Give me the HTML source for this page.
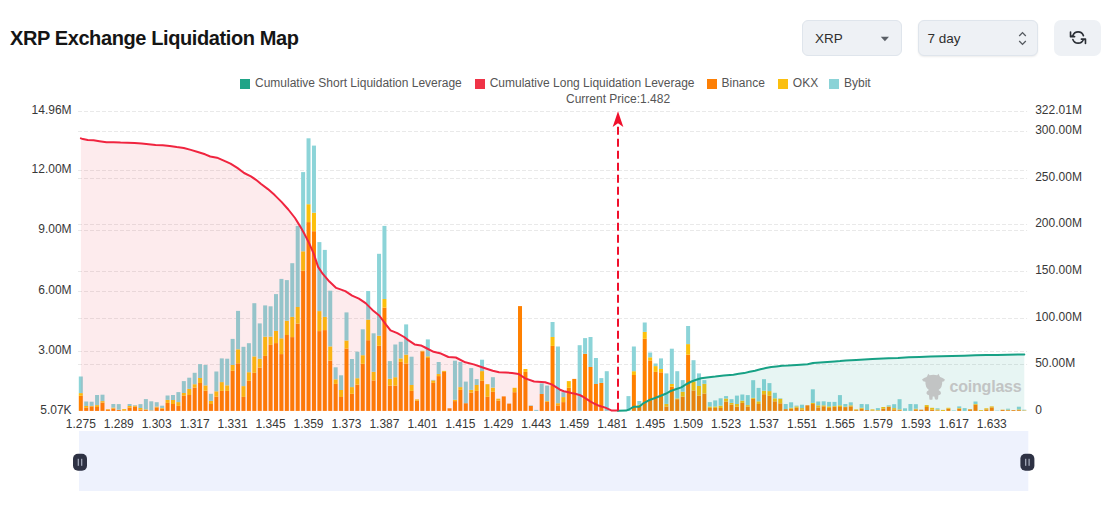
<!DOCTYPE html>
<html><head><meta charset="utf-8"><style>
html,body{margin:0;padding:0;background:#fff;}
body{width:1110px;height:530px;position:relative;overflow:hidden;font-family:"Liberation Sans",sans-serif;}
.title{position:absolute;left:10px;top:26px;font-size:20px;font-weight:bold;color:#151515;letter-spacing:-0.4px;line-height:24px;white-space:nowrap;}
.sel{position:absolute;top:20px;height:35.5px;box-sizing:border-box;background:#eef1f5;border:1px solid #dfe5ec;border-radius:6px;}
.sel span{position:absolute;top:9.5px;font-size:13.5px;color:#2e2e2e;line-height:16px;}
.btn{position:absolute;left:1054px;top:20px;width:47px;height:36px;background:#eef1f5;border-radius:7px;}
.lsq{position:absolute;top:78.5px;width:10px;height:10px;}
.lt{position:absolute;top:76px;font-size:12px;color:#555;line-height:14px;white-space:nowrap;}
.cp{position:absolute;left:566px;top:92px;font-size:12px;color:#555;line-height:14px;white-space:nowrap;}
svg{position:absolute;left:0;top:0;}
.ax{font-family:"Liberation Sans",sans-serif;font-size:12px;fill:#383838;}
.wm{font-family:"Liberation Sans",sans-serif;font-size:16px;font-weight:bold;fill:#c2c4c4;letter-spacing:-0.2px;}
</style></head><body>
<div class="title">XRP Exchange Liquidation Map</div>
<div class="sel" style="left:802px;width:100px;"><span style="left:12px">XRP</span>
<svg style="left:77px;top:15px" width="10" height="6" viewBox="0 0 10 6"><path d="M0.8 0.8 L9 0.8 L4.9 5.3 Z" fill="#5a5f66"/></svg></div>
<div class="sel" style="left:918px;width:120px;box-shadow:0 1px 2px rgba(0,0,0,0.08);"><span style="left:8.5px">7 day</span>
<svg style="left:99px;top:10px" width="9" height="15" viewBox="0 0 9 15"><path d="M1.2 5 L4.5 1.6 L7.8 5 M1.2 10 L4.5 13.4 L7.8 10" fill="none" stroke="#555a60" stroke-width="1.3"/></svg></div>
<div class="btn"><svg style="left:12px;top:6px" width="24" height="24" viewBox="0 0 530 530"><g fill="none" stroke="#2b2f36" stroke-width="36" stroke-linecap="round" stroke-linejoin="round"><path d="M384.5 212.6 A124 124 0 0 0 151.5 212.6 L100 235 M100 135 L100 235 L190 235"/><path d="M151.5 297.4 A124 124 0 0 0 384.5 297.4 L430 290 M340 290 L430 290 L430 385"/></g></svg></div>
<div class="lsq" style="left:240.1px;background:#1fa487"></div><div class="lt" style="left:255.0px">Cumulative Short Liquidation Leverage</div>
<div class="lsq" style="left:474.7px;background:#ef3347"></div><div class="lt" style="left:489.7px">Cumulative Long Liquidation Leverage</div>
<div class="lsq" style="left:706.5px;background:#fd7f05"></div><div class="lt" style="left:721.5px">Binance</div>
<div class="lsq" style="left:777.8px;background:#fbbf0f"></div><div class="lt" style="left:792.8px">OKX</div>
<div class="lsq" style="left:829.0px;background:#8bd3d7"></div><div class="lt" style="left:844.0px">Bybit</div>
<div class="cp">Current Price:1.482</div>
<svg width="1110" height="530" viewBox="0 0 1110 530" style="pointer-events:none">
<line x1="78" y1="111.5" x2="1027.1" y2="111.5" stroke="#e9e9e9" stroke-width="1" stroke-dasharray="4 2"/>
<line x1="78" y1="131.5" x2="1027.1" y2="131.5" stroke="#e9e9e9" stroke-width="1" stroke-dasharray="4 2"/>
<line x1="78" y1="170.5" x2="1027.1" y2="170.5" stroke="#e9e9e9" stroke-width="1" stroke-dasharray="4 2"/>
<line x1="78" y1="178.5" x2="1027.1" y2="178.5" stroke="#e9e9e9" stroke-width="1" stroke-dasharray="4 2"/>
<line x1="78" y1="224.5" x2="1027.1" y2="224.5" stroke="#e9e9e9" stroke-width="1" stroke-dasharray="4 2"/>
<line x1="78" y1="230.5" x2="1027.1" y2="230.5" stroke="#e9e9e9" stroke-width="1" stroke-dasharray="4 2"/>
<line x1="78" y1="271.5" x2="1027.1" y2="271.5" stroke="#e9e9e9" stroke-width="1" stroke-dasharray="4 2"/>
<line x1="78" y1="291.5" x2="1027.1" y2="291.5" stroke="#e9e9e9" stroke-width="1" stroke-dasharray="4 2"/>
<line x1="78" y1="318.5" x2="1027.1" y2="318.5" stroke="#e9e9e9" stroke-width="1" stroke-dasharray="4 2"/>
<line x1="78" y1="351.5" x2="1027.1" y2="351.5" stroke="#e9e9e9" stroke-width="1" stroke-dasharray="4 2"/>
<line x1="78" y1="364.5" x2="1027.1" y2="364.5" stroke="#e9e9e9" stroke-width="1" stroke-dasharray="4 2"/>
<rect x="78.8" y="395.8" width="4.0" height="15.1" fill="#ff8000"/>
<rect x="78.8" y="393.1" width="4.0" height="2.7" fill="#fcc00c"/>
<rect x="78.8" y="376.5" width="4.0" height="16.6" fill="#8cd4d8"/>
<rect x="84.22" y="407.8" width="4.0" height="3.1" fill="#ff8000"/>
<rect x="84.22" y="406" width="4.0" height="1.8" fill="#fcc00c"/>
<rect x="84.22" y="401.5" width="4.0" height="4.5" fill="#8cd4d8"/>
<rect x="89.64" y="406.4" width="4.0" height="4.5" fill="#ff8000"/>
<rect x="89.64" y="405.9" width="4.0" height="0.5" fill="#fcc00c"/>
<rect x="89.64" y="401.7" width="4.0" height="4.2" fill="#8cd4d8"/>
<rect x="95.07" y="407" width="4.0" height="3.9" fill="#ff8000"/>
<rect x="95.07" y="405.1" width="4.0" height="1.9" fill="#fcc00c"/>
<rect x="95.07" y="395" width="4.0" height="10.1" fill="#8cd4d8"/>
<rect x="100.49" y="402.6" width="4.0" height="8.3" fill="#ff8000"/>
<rect x="100.49" y="401.1" width="4.0" height="1.5" fill="#fcc00c"/>
<rect x="100.49" y="394.7" width="4.0" height="6.4" fill="#8cd4d8"/>
<rect x="105.91" y="409.7" width="4.0" height="1.2" fill="#ff8000"/>
<rect x="105.91" y="409.1" width="4.0" height="0.6" fill="#fcc00c"/>
<rect x="111.33" y="408.5" width="4.0" height="2.4" fill="#ff8000"/>
<rect x="111.33" y="407.6" width="4.0" height="0.9" fill="#fcc00c"/>
<rect x="111.33" y="404" width="4.0" height="3.6" fill="#8cd4d8"/>
<rect x="116.76" y="409.9" width="4.0" height="1" fill="#ff8000"/>
<rect x="116.76" y="409.7" width="4.0" height="0.2" fill="#fcc00c"/>
<rect x="116.76" y="404.1" width="4.0" height="5.6" fill="#8cd4d8"/>
<rect x="122.18" y="410.6" width="4.0" height="0.3" fill="#ff8000"/>
<rect x="122.18" y="409.1" width="4.0" height="1.5" fill="#fcc00c"/>
<rect x="127.6" y="407.6" width="4.0" height="3.3" fill="#ff8000"/>
<rect x="127.6" y="406" width="4.0" height="1.6" fill="#fcc00c"/>
<rect x="127.6" y="404" width="4.0" height="2" fill="#8cd4d8"/>
<rect x="133.02" y="406.6" width="4.0" height="4.3" fill="#ff8000"/>
<rect x="133.02" y="405.7" width="4.0" height="0.9" fill="#fcc00c"/>
<rect x="133.02" y="405.1" width="4.0" height="0.6" fill="#8cd4d8"/>
<rect x="138.45" y="409.7" width="4.0" height="1.2" fill="#ff8000"/>
<rect x="138.45" y="408" width="4.0" height="1.7" fill="#fcc00c"/>
<rect x="138.45" y="404.1" width="4.0" height="3.9" fill="#8cd4d8"/>
<rect x="143.87" y="409.9" width="4.0" height="1" fill="#ff8000"/>
<rect x="143.87" y="409.3" width="4.0" height="0.6" fill="#fcc00c"/>
<rect x="143.87" y="399.1" width="4.0" height="10.2" fill="#8cd4d8"/>
<rect x="149.29" y="410.6" width="4.0" height="0.3" fill="#ff8000"/>
<rect x="149.29" y="410.4" width="4.0" height="0.2" fill="#fcc00c"/>
<rect x="149.29" y="401.3" width="4.0" height="9.1" fill="#8cd4d8"/>
<rect x="154.71" y="407.4" width="4.0" height="3.5" fill="#ff8000"/>
<rect x="154.71" y="406.6" width="4.0" height="0.8" fill="#fcc00c"/>
<rect x="154.71" y="402.2" width="4.0" height="4.4" fill="#8cd4d8"/>
<rect x="160.14" y="408.7" width="4.0" height="2.2" fill="#ff8000"/>
<rect x="160.14" y="408" width="4.0" height="0.7" fill="#fcc00c"/>
<rect x="160.14" y="405.7" width="4.0" height="2.3" fill="#8cd4d8"/>
<rect x="165.56" y="402.9" width="4.0" height="8" fill="#ff8000"/>
<rect x="165.56" y="399.9" width="4.0" height="3" fill="#fcc00c"/>
<rect x="165.56" y="395.5" width="4.0" height="4.4" fill="#8cd4d8"/>
<rect x="170.98" y="404" width="4.0" height="6.9" fill="#ff8000"/>
<rect x="170.98" y="400" width="4.0" height="4" fill="#fcc00c"/>
<rect x="170.98" y="395" width="4.0" height="5" fill="#8cd4d8"/>
<rect x="176.4" y="405.9" width="4.0" height="5" fill="#ff8000"/>
<rect x="176.4" y="402.1" width="4.0" height="3.8" fill="#fcc00c"/>
<rect x="176.4" y="392.1" width="4.0" height="10" fill="#8cd4d8"/>
<rect x="181.83" y="395.8" width="4.0" height="15.1" fill="#ff8000"/>
<rect x="181.83" y="393" width="4.0" height="2.8" fill="#fcc00c"/>
<rect x="181.83" y="381.1" width="4.0" height="11.9" fill="#8cd4d8"/>
<rect x="187.25" y="395" width="4.0" height="15.9" fill="#ff8000"/>
<rect x="187.25" y="388.9" width="4.0" height="6.1" fill="#fcc00c"/>
<rect x="187.25" y="377.7" width="4.0" height="11.2" fill="#8cd4d8"/>
<rect x="192.67" y="387.6" width="4.0" height="23.3" fill="#ff8000"/>
<rect x="192.67" y="384.2" width="4.0" height="3.4" fill="#fcc00c"/>
<rect x="192.67" y="372.8" width="4.0" height="11.4" fill="#8cd4d8"/>
<rect x="198.09" y="383" width="4.0" height="27.9" fill="#ff8000"/>
<rect x="198.09" y="378" width="4.0" height="5" fill="#fcc00c"/>
<rect x="198.09" y="364.1" width="4.0" height="13.9" fill="#8cd4d8"/>
<rect x="203.52" y="390.7" width="4.0" height="20.2" fill="#ff8000"/>
<rect x="203.52" y="385.4" width="4.0" height="5.3" fill="#fcc00c"/>
<rect x="203.52" y="365" width="4.0" height="20.4" fill="#8cd4d8"/>
<rect x="208.94" y="404" width="4.0" height="6.9" fill="#ff8000"/>
<rect x="208.94" y="400.9" width="4.0" height="3.1" fill="#fcc00c"/>
<rect x="208.94" y="393.8" width="4.0" height="7.1" fill="#8cd4d8"/>
<rect x="214.36" y="396.6" width="4.0" height="14.3" fill="#ff8000"/>
<rect x="214.36" y="391.3" width="4.0" height="5.3" fill="#fcc00c"/>
<rect x="214.36" y="371.5" width="4.0" height="19.8" fill="#8cd4d8"/>
<rect x="219.78" y="390.9" width="4.0" height="20" fill="#ff8000"/>
<rect x="219.78" y="382.1" width="4.0" height="8.8" fill="#fcc00c"/>
<rect x="219.78" y="358.4" width="4.0" height="23.7" fill="#8cd4d8"/>
<rect x="225.2" y="390.9" width="4.0" height="20" fill="#ff8000"/>
<rect x="225.2" y="385.3" width="4.0" height="5.6" fill="#fcc00c"/>
<rect x="225.2" y="358.7" width="4.0" height="26.6" fill="#8cd4d8"/>
<rect x="230.63" y="370.8" width="4.0" height="40.1" fill="#ff8000"/>
<rect x="230.63" y="365" width="4.0" height="5.8" fill="#fcc00c"/>
<rect x="230.63" y="338.9" width="4.0" height="26.1" fill="#8cd4d8"/>
<rect x="236.05" y="363.3" width="4.0" height="47.6" fill="#ff8000"/>
<rect x="236.05" y="349.3" width="4.0" height="14" fill="#fcc00c"/>
<rect x="236.05" y="310.9" width="4.0" height="38.4" fill="#8cd4d8"/>
<rect x="241.47" y="396.9" width="4.0" height="14" fill="#ff8000"/>
<rect x="241.47" y="386.1" width="4.0" height="10.8" fill="#fcc00c"/>
<rect x="241.47" y="346.8" width="4.0" height="39.3" fill="#8cd4d8"/>
<rect x="246.89" y="380.8" width="4.0" height="30.1" fill="#ff8000"/>
<rect x="246.89" y="372.2" width="4.0" height="8.6" fill="#fcc00c"/>
<rect x="246.89" y="343.2" width="4.0" height="29" fill="#8cd4d8"/>
<rect x="252.32" y="372.8" width="4.0" height="38.1" fill="#ff8000"/>
<rect x="252.32" y="356.4" width="4.0" height="16.4" fill="#fcc00c"/>
<rect x="252.32" y="303.2" width="4.0" height="53.2" fill="#8cd4d8"/>
<rect x="257.74" y="367.7" width="4.0" height="43.2" fill="#ff8000"/>
<rect x="257.74" y="358.7" width="4.0" height="9" fill="#fcc00c"/>
<rect x="257.74" y="323.4" width="4.0" height="35.3" fill="#8cd4d8"/>
<rect x="263.16" y="355.9" width="4.0" height="55" fill="#ff8000"/>
<rect x="263.16" y="336.7" width="4.0" height="19.2" fill="#fcc00c"/>
<rect x="263.16" y="305.4" width="4.0" height="31.3" fill="#8cd4d8"/>
<rect x="268.58" y="344.9" width="4.0" height="66" fill="#ff8000"/>
<rect x="268.58" y="336.6" width="4.0" height="8.3" fill="#fcc00c"/>
<rect x="268.58" y="306.3" width="4.0" height="30.3" fill="#8cd4d8"/>
<rect x="274.01" y="343.1" width="4.0" height="67.8" fill="#ff8000"/>
<rect x="274.01" y="330.9" width="4.0" height="12.2" fill="#fcc00c"/>
<rect x="274.01" y="294.1" width="4.0" height="36.8" fill="#8cd4d8"/>
<rect x="279.43" y="354.1" width="4.0" height="56.8" fill="#ff8000"/>
<rect x="279.43" y="338.3" width="4.0" height="15.8" fill="#fcc00c"/>
<rect x="279.43" y="278.9" width="4.0" height="59.4" fill="#8cd4d8"/>
<rect x="284.85" y="335" width="4.0" height="75.9" fill="#ff8000"/>
<rect x="284.85" y="320.7" width="4.0" height="14.3" fill="#fcc00c"/>
<rect x="284.85" y="280.1" width="4.0" height="40.6" fill="#8cd4d8"/>
<rect x="290.27" y="337.1" width="4.0" height="73.8" fill="#ff8000"/>
<rect x="290.27" y="316.9" width="4.0" height="20.2" fill="#fcc00c"/>
<rect x="290.27" y="263.2" width="4.0" height="53.7" fill="#8cd4d8"/>
<rect x="295.7" y="323.6" width="4.0" height="87.3" fill="#ff8000"/>
<rect x="295.7" y="307" width="4.0" height="16.6" fill="#fcc00c"/>
<rect x="295.7" y="225.9" width="4.0" height="81.1" fill="#8cd4d8"/>
<rect x="301.12" y="270.8" width="4.0" height="140.1" fill="#ff8000"/>
<rect x="301.12" y="251.3" width="4.0" height="19.5" fill="#fcc00c"/>
<rect x="301.12" y="172.1" width="4.0" height="79.2" fill="#8cd4d8"/>
<rect x="306.54" y="222.1" width="4.0" height="188.8" fill="#ff8000"/>
<rect x="306.54" y="204.2" width="4.0" height="17.9" fill="#fcc00c"/>
<rect x="306.54" y="138.3" width="4.0" height="65.9" fill="#8cd4d8"/>
<rect x="311.96" y="231.2" width="4.0" height="179.7" fill="#ff8000"/>
<rect x="311.96" y="212.7" width="4.0" height="18.5" fill="#fcc00c"/>
<rect x="311.96" y="145.6" width="4.0" height="67.1" fill="#8cd4d8"/>
<rect x="317.39" y="331.1" width="4.0" height="79.8" fill="#ff8000"/>
<rect x="317.39" y="311.1" width="4.0" height="20" fill="#fcc00c"/>
<rect x="317.39" y="242.1" width="4.0" height="69" fill="#8cd4d8"/>
<rect x="322.81" y="330.1" width="4.0" height="80.8" fill="#ff8000"/>
<rect x="322.81" y="316.9" width="4.0" height="13.2" fill="#fcc00c"/>
<rect x="322.81" y="249.9" width="4.0" height="67" fill="#8cd4d8"/>
<rect x="328.23" y="360.6" width="4.0" height="50.3" fill="#ff8000"/>
<rect x="328.23" y="346.4" width="4.0" height="14.2" fill="#fcc00c"/>
<rect x="328.23" y="290.7" width="4.0" height="55.7" fill="#8cd4d8"/>
<rect x="333.65" y="383.9" width="4.0" height="27" fill="#ff8000"/>
<rect x="333.65" y="379.3" width="4.0" height="4.6" fill="#fcc00c"/>
<rect x="333.65" y="367.3" width="4.0" height="12" fill="#8cd4d8"/>
<rect x="339.08" y="397" width="4.0" height="13.9" fill="#ff8000"/>
<rect x="339.08" y="390" width="4.0" height="7" fill="#fcc00c"/>
<rect x="339.08" y="375.3" width="4.0" height="14.7" fill="#8cd4d8"/>
<rect x="344.5" y="348.5" width="4.0" height="62.4" fill="#ff8000"/>
<rect x="344.5" y="340.5" width="4.0" height="8" fill="#fcc00c"/>
<rect x="344.5" y="312.4" width="4.0" height="28.1" fill="#8cd4d8"/>
<rect x="349.92" y="393.8" width="4.0" height="17.1" fill="#ff8000"/>
<rect x="349.92" y="387.1" width="4.0" height="6.7" fill="#fcc00c"/>
<rect x="349.92" y="359" width="4.0" height="28.1" fill="#8cd4d8"/>
<rect x="355.34" y="384.7" width="4.0" height="26.2" fill="#ff8000"/>
<rect x="355.34" y="378.2" width="4.0" height="6.5" fill="#fcc00c"/>
<rect x="355.34" y="351.7" width="4.0" height="26.5" fill="#8cd4d8"/>
<rect x="360.76" y="363.8" width="4.0" height="47.1" fill="#ff8000"/>
<rect x="360.76" y="355.2" width="4.0" height="8.6" fill="#fcc00c"/>
<rect x="360.76" y="329.3" width="4.0" height="25.9" fill="#8cd4d8"/>
<rect x="366.19" y="340.2" width="4.0" height="70.7" fill="#ff8000"/>
<rect x="366.19" y="319.6" width="4.0" height="20.6" fill="#fcc00c"/>
<rect x="366.19" y="291" width="4.0" height="28.6" fill="#8cd4d8"/>
<rect x="371.61" y="380.4" width="4.0" height="30.5" fill="#ff8000"/>
<rect x="371.61" y="371.8" width="4.0" height="8.6" fill="#fcc00c"/>
<rect x="371.61" y="333.3" width="4.0" height="38.5" fill="#8cd4d8"/>
<rect x="377.03" y="345.8" width="4.0" height="65.1" fill="#ff8000"/>
<rect x="377.03" y="335.7" width="4.0" height="10.1" fill="#fcc00c"/>
<rect x="377.03" y="253.8" width="4.0" height="81.9" fill="#8cd4d8"/>
<rect x="382.45" y="307.6" width="4.0" height="103.3" fill="#ff8000"/>
<rect x="382.45" y="299" width="4.0" height="8.6" fill="#fcc00c"/>
<rect x="382.45" y="225.9" width="4.0" height="73.1" fill="#8cd4d8"/>
<rect x="387.88" y="385.7" width="4.0" height="25.2" fill="#ff8000"/>
<rect x="387.88" y="378.8" width="4.0" height="6.9" fill="#fcc00c"/>
<rect x="387.88" y="361.1" width="4.0" height="17.7" fill="#8cd4d8"/>
<rect x="393.3" y="385.7" width="4.0" height="25.2" fill="#ff8000"/>
<rect x="393.3" y="377.2" width="4.0" height="8.5" fill="#fcc00c"/>
<rect x="393.3" y="344.5" width="4.0" height="32.7" fill="#8cd4d8"/>
<rect x="398.72" y="361.9" width="4.0" height="49" fill="#ff8000"/>
<rect x="398.72" y="358.4" width="4.0" height="3.5" fill="#fcc00c"/>
<rect x="398.72" y="341.8" width="4.0" height="16.6" fill="#8cd4d8"/>
<rect x="404.14" y="363.5" width="4.0" height="47.4" fill="#ff8000"/>
<rect x="404.14" y="354.6" width="4.0" height="8.9" fill="#fcc00c"/>
<rect x="404.14" y="324.4" width="4.0" height="30.2" fill="#8cd4d8"/>
<rect x="409.57" y="390.9" width="4.0" height="20" fill="#ff8000"/>
<rect x="409.57" y="385" width="4.0" height="5.9" fill="#fcc00c"/>
<rect x="409.57" y="356.7" width="4.0" height="28.3" fill="#8cd4d8"/>
<rect x="414.99" y="400.7" width="4.0" height="10.2" fill="#ff8000"/>
<rect x="414.99" y="399.4" width="4.0" height="1.3" fill="#fcc00c"/>
<rect x="420.41" y="351.4" width="4.0" height="59.5" fill="#ff8000"/>
<rect x="420.41" y="350.8" width="4.0" height="0.6" fill="#fcc00c"/>
<rect x="425.83" y="358" width="4.0" height="52.9" fill="#ff8000"/>
<rect x="425.83" y="356.3" width="4.0" height="1.7" fill="#fcc00c"/>
<rect x="425.83" y="339.4" width="4.0" height="16.9" fill="#8cd4d8"/>
<rect x="431.26" y="382.9" width="4.0" height="28" fill="#ff8000"/>
<rect x="431.26" y="380.4" width="4.0" height="2.5" fill="#fcc00c"/>
<rect x="431.26" y="379.9" width="4.0" height="0.5" fill="#8cd4d8"/>
<rect x="436.68" y="376.1" width="4.0" height="34.8" fill="#ff8000"/>
<rect x="436.68" y="374" width="4.0" height="2.1" fill="#fcc00c"/>
<rect x="436.68" y="362" width="4.0" height="12" fill="#8cd4d8"/>
<rect x="442.1" y="371.9" width="4.0" height="39" fill="#ff8000"/>
<rect x="442.1" y="370.9" width="4.0" height="1" fill="#fcc00c"/>
<rect x="447.52" y="408.3" width="4.0" height="2.6" fill="#ff8000"/>
<rect x="452.95" y="401.1" width="4.0" height="9.8" fill="#ff8000"/>
<rect x="452.95" y="399.8" width="4.0" height="1.3" fill="#fcc00c"/>
<rect x="452.95" y="360.7" width="4.0" height="39.1" fill="#8cd4d8"/>
<rect x="458.37" y="389.9" width="4.0" height="21" fill="#ff8000"/>
<rect x="458.37" y="387.1" width="4.0" height="2.8" fill="#fcc00c"/>
<rect x="458.37" y="362" width="4.0" height="25.1" fill="#8cd4d8"/>
<rect x="463.79" y="403.2" width="4.0" height="7.7" fill="#ff8000"/>
<rect x="463.79" y="381.6" width="4.0" height="21.6" fill="#8cd4d8"/>
<rect x="469.21" y="392.6" width="4.0" height="18.3" fill="#ff8000"/>
<rect x="469.21" y="389.9" width="4.0" height="2.7" fill="#fcc00c"/>
<rect x="469.21" y="368.1" width="4.0" height="21.8" fill="#8cd4d8"/>
<rect x="474.64" y="390.9" width="4.0" height="20" fill="#ff8000"/>
<rect x="474.64" y="385" width="4.0" height="5.9" fill="#fcc00c"/>
<rect x="474.64" y="379.1" width="4.0" height="5.9" fill="#8cd4d8"/>
<rect x="480.06" y="380.8" width="4.0" height="30.1" fill="#ff8000"/>
<rect x="480.06" y="371.1" width="4.0" height="9.7" fill="#fcc00c"/>
<rect x="480.06" y="359.7" width="4.0" height="11.4" fill="#8cd4d8"/>
<rect x="485.48" y="396.8" width="4.0" height="14.1" fill="#ff8000"/>
<rect x="485.48" y="384.2" width="4.0" height="12.6" fill="#fcc00c"/>
<rect x="490.9" y="391.8" width="4.0" height="19.1" fill="#ff8000"/>
<rect x="490.9" y="387.6" width="4.0" height="4.2" fill="#fcc00c"/>
<rect x="490.9" y="377.2" width="4.0" height="10.4" fill="#8cd4d8"/>
<rect x="496.32" y="400.6" width="4.0" height="10.3" fill="#ff8000"/>
<rect x="496.32" y="398.7" width="4.0" height="1.9" fill="#fcc00c"/>
<rect x="501.75" y="396.4" width="4.0" height="14.5" fill="#ff8000"/>
<rect x="507.17" y="403.6" width="4.0" height="7.3" fill="#ff8000"/>
<rect x="512.59" y="392.2" width="4.0" height="18.7" fill="#ff8000"/>
<rect x="512.59" y="387.8" width="4.0" height="4.4" fill="#fcc00c"/>
<rect x="518.01" y="306.1" width="4.0" height="104.8" fill="#ff8000"/>
<rect x="523.44" y="371.9" width="4.0" height="39" fill="#ff8000"/>
<rect x="523.44" y="369" width="4.0" height="2.9" fill="#fcc00c"/>
<rect x="528.86" y="405.9" width="4.0" height="5" fill="#ff8000"/>
<rect x="528.86" y="405.4" width="4.0" height="0.5" fill="#8cd4d8"/>
<rect x="534.28" y="409.9" width="4.0" height="1" fill="#8cd4d8"/>
<rect x="539.7" y="394" width="4.0" height="16.9" fill="#ff8000"/>
<rect x="539.7" y="383.4" width="4.0" height="10.6" fill="#8cd4d8"/>
<rect x="545.13" y="401.9" width="4.0" height="9" fill="#ff8000"/>
<rect x="545.13" y="401.1" width="4.0" height="0.8" fill="#fcc00c"/>
<rect x="545.13" y="385.6" width="4.0" height="15.5" fill="#8cd4d8"/>
<rect x="550.55" y="345.9" width="4.0" height="65" fill="#ff8000"/>
<rect x="550.55" y="337" width="4.0" height="8.9" fill="#fcc00c"/>
<rect x="550.55" y="322" width="4.0" height="15" fill="#8cd4d8"/>
<rect x="555.97" y="405.4" width="4.0" height="5.5" fill="#ff8000"/>
<rect x="555.97" y="403.2" width="4.0" height="2.2" fill="#fcc00c"/>
<rect x="555.97" y="346.5" width="4.0" height="56.7" fill="#8cd4d8"/>
<rect x="561.39" y="402.1" width="4.0" height="8.8" fill="#ff8000"/>
<rect x="561.39" y="397.1" width="4.0" height="5" fill="#fcc00c"/>
<rect x="561.39" y="392.2" width="4.0" height="4.9" fill="#8cd4d8"/>
<rect x="566.82" y="387.8" width="4.0" height="23.1" fill="#ff8000"/>
<rect x="566.82" y="381.1" width="4.0" height="6.7" fill="#fcc00c"/>
<rect x="572.24" y="378.9" width="4.0" height="32" fill="#ff8000"/>
<rect x="577.66" y="345.2" width="4.0" height="65.7" fill="#8cd4d8"/>
<rect x="583.08" y="353.8" width="4.0" height="57.1" fill="#ff8000"/>
<rect x="583.08" y="338.1" width="4.0" height="15.7" fill="#8cd4d8"/>
<rect x="588.51" y="367" width="4.0" height="43.9" fill="#ff8000"/>
<rect x="588.51" y="337" width="4.0" height="30" fill="#8cd4d8"/>
<rect x="593.93" y="384" width="4.0" height="26.9" fill="#ff8000"/>
<rect x="593.93" y="358" width="4.0" height="26" fill="#8cd4d8"/>
<rect x="599.35" y="382.9" width="4.0" height="28" fill="#ff8000"/>
<rect x="599.35" y="378.1" width="4.0" height="4.8" fill="#8cd4d8"/>
<rect x="604.77" y="371.2" width="4.0" height="39.7" fill="#8cd4d8"/>
<rect x="626.46" y="396.1" width="4.0" height="14.8" fill="#8cd4d8"/>
<rect x="631.88" y="375" width="4.0" height="35.9" fill="#ff8000"/>
<rect x="631.88" y="371.2" width="4.0" height="3.8" fill="#fcc00c"/>
<rect x="631.88" y="346.5" width="4.0" height="24.7" fill="#8cd4d8"/>
<rect x="637.31" y="406.9" width="4.0" height="4" fill="#ff8000"/>
<rect x="637.31" y="404.9" width="4.0" height="2" fill="#fcc00c"/>
<rect x="637.31" y="401" width="4.0" height="3.9" fill="#8cd4d8"/>
<rect x="642.73" y="338.8" width="4.0" height="72.1" fill="#ff8000"/>
<rect x="642.73" y="331.9" width="4.0" height="6.9" fill="#fcc00c"/>
<rect x="642.73" y="322.5" width="4.0" height="9.4" fill="#8cd4d8"/>
<rect x="648.15" y="360.4" width="4.0" height="50.5" fill="#ff8000"/>
<rect x="648.15" y="357.3" width="4.0" height="3.1" fill="#fcc00c"/>
<rect x="648.15" y="352.5" width="4.0" height="4.8" fill="#8cd4d8"/>
<rect x="653.57" y="371.9" width="4.0" height="39" fill="#ff8000"/>
<rect x="653.57" y="366.1" width="4.0" height="5.8" fill="#fcc00c"/>
<rect x="653.57" y="363.5" width="4.0" height="2.6" fill="#8cd4d8"/>
<rect x="659" y="372.3" width="4.0" height="38.6" fill="#ff8000"/>
<rect x="659" y="369" width="4.0" height="3.3" fill="#fcc00c"/>
<rect x="659" y="358.4" width="4.0" height="10.6" fill="#8cd4d8"/>
<rect x="664.42" y="406.5" width="4.0" height="4.4" fill="#ff8000"/>
<rect x="664.42" y="403.9" width="4.0" height="2.6" fill="#fcc00c"/>
<rect x="664.42" y="373.4" width="4.0" height="30.5" fill="#8cd4d8"/>
<rect x="669.84" y="386.7" width="4.0" height="24.2" fill="#ff8000"/>
<rect x="669.84" y="384" width="4.0" height="2.7" fill="#fcc00c"/>
<rect x="669.84" y="348.7" width="4.0" height="35.3" fill="#8cd4d8"/>
<rect x="675.26" y="399.2" width="4.0" height="11.7" fill="#ff8000"/>
<rect x="675.26" y="398.4" width="4.0" height="0.8" fill="#fcc00c"/>
<rect x="675.26" y="371.2" width="4.0" height="27.2" fill="#8cd4d8"/>
<rect x="680.69" y="396.6" width="4.0" height="14.3" fill="#ff8000"/>
<rect x="680.69" y="391.7" width="4.0" height="4.9" fill="#fcc00c"/>
<rect x="680.69" y="380.1" width="4.0" height="11.6" fill="#8cd4d8"/>
<rect x="686.11" y="354.7" width="4.0" height="56.2" fill="#ff8000"/>
<rect x="686.11" y="344.1" width="4.0" height="10.6" fill="#fcc00c"/>
<rect x="686.11" y="326" width="4.0" height="18.1" fill="#8cd4d8"/>
<rect x="691.53" y="390.4" width="4.0" height="20.5" fill="#ff8000"/>
<rect x="691.53" y="381.6" width="4.0" height="8.8" fill="#fcc00c"/>
<rect x="691.53" y="360.2" width="4.0" height="21.4" fill="#8cd4d8"/>
<rect x="696.95" y="395.5" width="4.0" height="15.4" fill="#ff8000"/>
<rect x="696.95" y="386" width="4.0" height="9.5" fill="#fcc00c"/>
<rect x="696.95" y="373.4" width="4.0" height="12.6" fill="#8cd4d8"/>
<rect x="702.38" y="393.5" width="4.0" height="17.4" fill="#ff8000"/>
<rect x="702.38" y="383.8" width="4.0" height="9.7" fill="#fcc00c"/>
<rect x="702.38" y="380.1" width="4.0" height="3.7" fill="#8cd4d8"/>
<rect x="707.8" y="407.9" width="4.0" height="3" fill="#ff8000"/>
<rect x="707.8" y="406.5" width="4.0" height="1.4" fill="#fcc00c"/>
<rect x="707.8" y="402.1" width="4.0" height="4.4" fill="#8cd4d8"/>
<rect x="713.22" y="407.9" width="4.0" height="3" fill="#ff8000"/>
<rect x="713.22" y="406.5" width="4.0" height="1.4" fill="#fcc00c"/>
<rect x="713.22" y="400.4" width="4.0" height="6.1" fill="#8cd4d8"/>
<rect x="718.64" y="408" width="4.0" height="2.9" fill="#ff8000"/>
<rect x="718.64" y="405.6" width="4.0" height="2.4" fill="#fcc00c"/>
<rect x="718.64" y="398.3" width="4.0" height="7.3" fill="#8cd4d8"/>
<rect x="724.07" y="401.5" width="4.0" height="9.4" fill="#ff8000"/>
<rect x="724.07" y="398.5" width="4.0" height="3" fill="#fcc00c"/>
<rect x="724.07" y="396.1" width="4.0" height="2.4" fill="#8cd4d8"/>
<rect x="729.49" y="404.7" width="4.0" height="6.2" fill="#ff8000"/>
<rect x="729.49" y="402.9" width="4.0" height="1.8" fill="#fcc00c"/>
<rect x="729.49" y="399.2" width="4.0" height="3.7" fill="#8cd4d8"/>
<rect x="734.91" y="406.7" width="4.0" height="4.2" fill="#ff8000"/>
<rect x="734.91" y="404" width="4.0" height="2.7" fill="#fcc00c"/>
<rect x="734.91" y="395.6" width="4.0" height="8.4" fill="#8cd4d8"/>
<rect x="740.33" y="402.9" width="4.0" height="8" fill="#ff8000"/>
<rect x="740.33" y="400.6" width="4.0" height="2.3" fill="#fcc00c"/>
<rect x="740.33" y="394.5" width="4.0" height="6.1" fill="#8cd4d8"/>
<rect x="745.76" y="406.7" width="4.0" height="4.2" fill="#ff8000"/>
<rect x="745.76" y="405.1" width="4.0" height="1.6" fill="#fcc00c"/>
<rect x="745.76" y="395.1" width="4.0" height="10" fill="#8cd4d8"/>
<rect x="751.18" y="398.8" width="4.0" height="12.1" fill="#ff8000"/>
<rect x="751.18" y="397.9" width="4.0" height="0.9" fill="#fcc00c"/>
<rect x="751.18" y="380.2" width="4.0" height="17.7" fill="#8cd4d8"/>
<rect x="756.6" y="404" width="4.0" height="6.9" fill="#ff8000"/>
<rect x="756.6" y="401.3" width="4.0" height="2.7" fill="#fcc00c"/>
<rect x="756.6" y="387.9" width="4.0" height="13.4" fill="#8cd4d8"/>
<rect x="762.02" y="394.2" width="4.0" height="16.7" fill="#ff8000"/>
<rect x="762.02" y="390.7" width="4.0" height="3.5" fill="#fcc00c"/>
<rect x="762.02" y="379.2" width="4.0" height="11.5" fill="#8cd4d8"/>
<rect x="767.44" y="395.8" width="4.0" height="15.1" fill="#ff8000"/>
<rect x="767.44" y="391.1" width="4.0" height="4.7" fill="#fcc00c"/>
<rect x="767.44" y="383.1" width="4.0" height="8" fill="#8cd4d8"/>
<rect x="772.87" y="401.3" width="4.0" height="9.6" fill="#ff8000"/>
<rect x="772.87" y="398.3" width="4.0" height="3" fill="#fcc00c"/>
<rect x="772.87" y="392.8" width="4.0" height="5.5" fill="#8cd4d8"/>
<rect x="778.29" y="403.3" width="4.0" height="7.6" fill="#ff8000"/>
<rect x="778.29" y="398.8" width="4.0" height="4.5" fill="#fcc00c"/>
<rect x="778.29" y="398.3" width="4.0" height="0.5" fill="#8cd4d8"/>
<rect x="783.71" y="409.1" width="4.0" height="1.8" fill="#ff8000"/>
<rect x="783.71" y="404" width="4.0" height="5.1" fill="#8cd4d8"/>
<rect x="789.13" y="408.7" width="4.0" height="2.2" fill="#ff8000"/>
<rect x="789.13" y="407.8" width="4.0" height="0.9" fill="#fcc00c"/>
<rect x="789.13" y="402.3" width="4.0" height="5.5" fill="#8cd4d8"/>
<rect x="794.56" y="407.8" width="4.0" height="3.1" fill="#ff8000"/>
<rect x="794.56" y="406.4" width="4.0" height="1.4" fill="#fcc00c"/>
<rect x="794.56" y="405.6" width="4.0" height="0.8" fill="#8cd4d8"/>
<rect x="799.98" y="409.7" width="4.0" height="1.2" fill="#ff8000"/>
<rect x="799.98" y="408.1" width="4.0" height="1.6" fill="#fcc00c"/>
<rect x="799.98" y="404.7" width="4.0" height="3.4" fill="#8cd4d8"/>
<rect x="805.4" y="405.3" width="4.0" height="5.6" fill="#ff8000"/>
<rect x="810.82" y="404" width="4.0" height="6.9" fill="#ff8000"/>
<rect x="810.82" y="402.9" width="4.0" height="1.1" fill="#fcc00c"/>
<rect x="810.82" y="389.3" width="4.0" height="13.6" fill="#8cd4d8"/>
<rect x="816.25" y="407.4" width="4.0" height="3.5" fill="#ff8000"/>
<rect x="816.25" y="405.3" width="4.0" height="2.1" fill="#fcc00c"/>
<rect x="816.25" y="401.5" width="4.0" height="3.8" fill="#8cd4d8"/>
<rect x="821.67" y="406.3" width="4.0" height="4.6" fill="#ff8000"/>
<rect x="821.67" y="405.3" width="4.0" height="1" fill="#fcc00c"/>
<rect x="821.67" y="401.3" width="4.0" height="4" fill="#8cd4d8"/>
<rect x="827.09" y="408" width="4.0" height="2.9" fill="#ff8000"/>
<rect x="827.09" y="406.4" width="4.0" height="1.6" fill="#fcc00c"/>
<rect x="827.09" y="401.9" width="4.0" height="4.5" fill="#8cd4d8"/>
<rect x="832.51" y="406.7" width="4.0" height="4.2" fill="#ff8000"/>
<rect x="832.51" y="406" width="4.0" height="0.7" fill="#fcc00c"/>
<rect x="832.51" y="401.9" width="4.0" height="4.1" fill="#8cd4d8"/>
<rect x="837.94" y="407" width="4.0" height="3.9" fill="#ff8000"/>
<rect x="837.94" y="405.3" width="4.0" height="1.7" fill="#fcc00c"/>
<rect x="837.94" y="395.1" width="4.0" height="10.2" fill="#8cd4d8"/>
<rect x="843.36" y="407.1" width="4.0" height="3.8" fill="#ff8000"/>
<rect x="843.36" y="406.7" width="4.0" height="0.4" fill="#fcc00c"/>
<rect x="843.36" y="404" width="4.0" height="2.7" fill="#8cd4d8"/>
<rect x="848.78" y="406.4" width="4.0" height="4.5" fill="#ff8000"/>
<rect x="848.78" y="405.3" width="4.0" height="1.1" fill="#fcc00c"/>
<rect x="848.78" y="402.3" width="4.0" height="3" fill="#8cd4d8"/>
<rect x="854.2" y="410.1" width="4.0" height="0.8" fill="#ff8000"/>
<rect x="854.2" y="409.4" width="4.0" height="0.7" fill="#fcc00c"/>
<rect x="859.63" y="408.7" width="4.0" height="2.2" fill="#ff8000"/>
<rect x="859.63" y="407.8" width="4.0" height="0.9" fill="#fcc00c"/>
<rect x="859.63" y="404" width="4.0" height="3.8" fill="#8cd4d8"/>
<rect x="865.05" y="410.1" width="4.0" height="0.8" fill="#ff8000"/>
<rect x="865.05" y="404.2" width="4.0" height="5.9" fill="#8cd4d8"/>
<rect x="870.47" y="410.5" width="4.0" height="0.4" fill="#ff8000"/>
<rect x="870.47" y="409.4" width="4.0" height="1.1" fill="#fcc00c"/>
<rect x="875.89" y="410.6" width="4.0" height="0.3" fill="#ff8000"/>
<rect x="875.89" y="410.1" width="4.0" height="0.5" fill="#fcc00c"/>
<rect x="875.89" y="408.1" width="4.0" height="2" fill="#8cd4d8"/>
<rect x="881.32" y="408.7" width="4.0" height="2.2" fill="#ff8000"/>
<rect x="881.32" y="407" width="4.0" height="1.7" fill="#fcc00c"/>
<rect x="886.74" y="407" width="4.0" height="3.9" fill="#ff8000"/>
<rect x="886.74" y="406.4" width="4.0" height="0.6" fill="#fcc00c"/>
<rect x="886.74" y="405.3" width="4.0" height="1.1" fill="#8cd4d8"/>
<rect x="892.16" y="409.4" width="4.0" height="1.5" fill="#ff8000"/>
<rect x="892.16" y="408.1" width="4.0" height="1.3" fill="#fcc00c"/>
<rect x="892.16" y="404.2" width="4.0" height="3.9" fill="#8cd4d8"/>
<rect x="897.58" y="410.1" width="4.0" height="0.8" fill="#ff8000"/>
<rect x="897.58" y="409.4" width="4.0" height="0.7" fill="#fcc00c"/>
<rect x="897.58" y="399.2" width="4.0" height="10.2" fill="#8cd4d8"/>
<rect x="903" y="408.3" width="4.0" height="2.6" fill="#8cd4d8"/>
<rect x="908.43" y="404" width="4.0" height="6.9" fill="#8cd4d8"/>
<rect x="913.85" y="409.4" width="4.0" height="1.5" fill="#ff8000"/>
<rect x="913.85" y="408.7" width="4.0" height="0.7" fill="#fcc00c"/>
<rect x="913.85" y="404.2" width="4.0" height="4.5" fill="#8cd4d8"/>
<rect x="919.27" y="409.7" width="4.0" height="1.2" fill="#ff8000"/>
<rect x="924.69" y="407" width="4.0" height="3.9" fill="#ff8000"/>
<rect x="924.69" y="405.1" width="4.0" height="1.9" fill="#fcc00c"/>
<rect x="930.12" y="409.7" width="4.0" height="1.2" fill="#ff8000"/>
<rect x="930.12" y="407.8" width="4.0" height="1.9" fill="#fcc00c"/>
<rect x="935.54" y="410.4" width="4.0" height="0.5" fill="#ff8000"/>
<rect x="935.54" y="409.4" width="4.0" height="1" fill="#fcc00c"/>
<rect x="935.54" y="408.3" width="4.0" height="1.1" fill="#8cd4d8"/>
<rect x="940.96" y="409.9" width="4.0" height="1" fill="#fcc00c"/>
<rect x="946.38" y="408.7" width="4.0" height="2.2" fill="#ff8000"/>
<rect x="946.38" y="407.8" width="4.0" height="0.9" fill="#fcc00c"/>
<rect x="951.81" y="410.4" width="4.0" height="0.5" fill="#8cd4d8"/>
<rect x="957.23" y="408.7" width="4.0" height="2.2" fill="#ff8000"/>
<rect x="957.23" y="408.1" width="4.0" height="0.6" fill="#fcc00c"/>
<rect x="957.23" y="406.4" width="4.0" height="1.7" fill="#8cd4d8"/>
<rect x="962.65" y="408.1" width="4.0" height="2.8" fill="#8cd4d8"/>
<rect x="968.07" y="409.4" width="4.0" height="1.5" fill="#ff8000"/>
<rect x="968.07" y="409.1" width="4.0" height="0.3" fill="#fcc00c"/>
<rect x="973.5" y="404.7" width="4.0" height="6.2" fill="#ff8000"/>
<rect x="973.5" y="404" width="4.0" height="0.7" fill="#fcc00c"/>
<rect x="973.5" y="401.5" width="4.0" height="2.5" fill="#8cd4d8"/>
<rect x="978.92" y="410.1" width="4.0" height="0.8" fill="#fcc00c"/>
<rect x="984.34" y="409.4" width="4.0" height="1.5" fill="#ff8000"/>
<rect x="984.34" y="408.3" width="4.0" height="1.1" fill="#fcc00c"/>
<rect x="989.76" y="407.4" width="4.0" height="3.5" fill="#ff8000"/>
<rect x="989.76" y="406.4" width="4.0" height="1" fill="#fcc00c"/>
<rect x="995.19" y="410.6" width="4.0" height="0.3" fill="#8cd4d8"/>
<rect x="1000.61" y="409.9" width="4.0" height="1" fill="#ff8000"/>
<rect x="1000.61" y="409.7" width="4.0" height="0.2" fill="#fcc00c"/>
<rect x="1006.03" y="410.2" width="4.0" height="0.7" fill="#ff8000"/>
<rect x="1006.03" y="409.7" width="4.0" height="0.5" fill="#fcc00c"/>
<rect x="1006.03" y="408.7" width="4.0" height="1" fill="#8cd4d8"/>
<rect x="1011.45" y="410.1" width="4.0" height="0.8" fill="#ff8000"/>
<rect x="1016.88" y="410.1" width="4.0" height="0.8" fill="#ff8000"/>
<rect x="1016.88" y="409.4" width="4.0" height="0.7" fill="#fcc00c"/>
<rect x="1016.88" y="406.7" width="4.0" height="2.7" fill="#8cd4d8"/>
<rect x="1022.3" y="410.6" width="4.0" height="0.3" fill="#ff8000"/>
<rect x="1022.3" y="410.3" width="4.0" height="0.3" fill="#fcc00c"/>
<rect x="1022.3" y="409.7" width="4.0" height="0.6" fill="#8cd4d8"/>
<polygon points="80.9,410.9 80.9,138.4 83,139.1 87.7,140.1 93.6,140.3 99.4,141.2 106.5,142.2 113.5,142.2 120.5,142.6 127.5,142.8 134.6,143.1 141.6,143.5 148.6,144.2 155.6,144.9 162.7,145.3 169.7,146 176.7,147.1 183.8,148 190.8,149.9 197.8,152 205.1,154.3 210.2,156.5 217,157.7 223.8,160.6 230.5,163.7 237.3,167.9 244.1,173 250.9,176.4 256,179.8 261.1,184 267.9,189.1 274.7,195.1 281.5,201.9 288.3,209.5 295,218 300,226.1 304.5,234.1 309.1,243.1 313.6,253.3 318.1,266.9 322.6,273.7 329.4,281.6 336.2,287.9 345.3,291.1 352.1,295.6 358.9,298.6 365.6,303.1 372.4,309.9 379.2,315.5 386,324.6 390.5,330.3 397.3,333.2 404.1,337 408.2,340.1 414.6,344.4 420.9,345.4 425.1,347.5 433.6,351.8 439.9,353.2 448.4,357 455.8,357.5 465.3,362.3 473.7,364.4 484.3,368 492.7,370.8 499.1,372.2 505.5,372.6 512,372.9 518.6,374 525.2,378.4 534.1,381.5 545.1,382.2 551.7,384.4 560,389.7 563.8,391.2 567.5,392 571.3,393 575.1,393.7 579.6,395 582.6,396.5 586.4,398.8 590.2,401.3 594,403.5 597.7,405.2 601.5,406.5 605.3,407.6 609.1,409.3 611.3,410.4 614.3,410.6 617.9,410.6 617.9,410.9" fill="rgba(240,60,80,0.1)"/>
<polygon points="617.9,410.9 617.9,410.7 626.1,410.6 629,409.5 633.5,406.8 639.2,406.8 643.7,403.1 648.8,400.3 654.4,398.3 660.1,396 666.3,393.5 670,391.3 675.7,389.3 681.3,387.4 685.8,384.5 690.4,382 695.5,380 701.1,378.3 706.8,377.5 715.3,376.6 723.8,375.5 730,374.9 733.4,374.7 738.8,373.8 744.2,373.1 749.6,371.8 755,370.7 760.4,369.3 765.8,368 771.2,367 776.6,366.4 782.1,365.8 788,365.6 796.8,365 807.6,364.2 813,363 823.8,362.2 834.6,361.4 840,361 846,360.4 856.2,359.9 872.4,359 888.6,358.2 898,357.9 908.8,357.3 919.6,356.9 930.4,356.5 941.2,356.2 952.1,355.9 964,355.7 975.4,355.3 986.2,354.9 997,354.9 1007.8,354.8 1018.6,354.5 1024.3,354.5 1024.3,410.9" fill="rgba(22,160,133,0.1)"/>
<polyline points="80.9,138.4 83,139.1 87.7,140.1 93.6,140.3 99.4,141.2 106.5,142.2 113.5,142.2 120.5,142.6 127.5,142.8 134.6,143.1 141.6,143.5 148.6,144.2 155.6,144.9 162.7,145.3 169.7,146 176.7,147.1 183.8,148 190.8,149.9 197.8,152 205.1,154.3 210.2,156.5 217,157.7 223.8,160.6 230.5,163.7 237.3,167.9 244.1,173 250.9,176.4 256,179.8 261.1,184 267.9,189.1 274.7,195.1 281.5,201.9 288.3,209.5 295,218 300,226.1 304.5,234.1 309.1,243.1 313.6,253.3 318.1,266.9 322.6,273.7 329.4,281.6 336.2,287.9 345.3,291.1 352.1,295.6 358.9,298.6 365.6,303.1 372.4,309.9 379.2,315.5 386,324.6 390.5,330.3 397.3,333.2 404.1,337 408.2,340.1 414.6,344.4 420.9,345.4 425.1,347.5 433.6,351.8 439.9,353.2 448.4,357 455.8,357.5 465.3,362.3 473.7,364.4 484.3,368 492.7,370.8 499.1,372.2 505.5,372.6 512,372.9 518.6,374 525.2,378.4 534.1,381.5 545.1,382.2 551.7,384.4 560,389.7 563.8,391.2 567.5,392 571.3,393 575.1,393.7 579.6,395 582.6,396.5 586.4,398.8 590.2,401.3 594,403.5 597.7,405.2 601.5,406.5 605.3,407.6 609.1,409.3 611.3,410.4 614.3,410.6 617.9,410.6" fill="none" stroke="#f0243f" stroke-width="2" stroke-linejoin="round" stroke-linecap="round"/>
<polyline points="617.9,410.7 626.1,410.6 629,409.5 633.5,406.8 639.2,406.8 643.7,403.1 648.8,400.3 654.4,398.3 660.1,396 666.3,393.5 670,391.3 675.7,389.3 681.3,387.4 685.8,384.5 690.4,382 695.5,380 701.1,378.3 706.8,377.5 715.3,376.6 723.8,375.5 730,374.9 733.4,374.7 738.8,373.8 744.2,373.1 749.6,371.8 755,370.7 760.4,369.3 765.8,368 771.2,367 776.6,366.4 782.1,365.8 788,365.6 796.8,365 807.6,364.2 813,363 823.8,362.2 834.6,361.4 840,361 846,360.4 856.2,359.9 872.4,359 888.6,358.2 898,357.9 908.8,357.3 919.6,356.9 930.4,356.5 941.2,356.2 952.1,355.9 964,355.7 975.4,355.3 986.2,354.9 997,354.9 1007.8,354.8 1018.6,354.5 1024.3,354.5" fill="none" stroke="#17a185" stroke-width="2" stroke-linejoin="round" stroke-linecap="round"/>
<line x1="618" y1="410.8" x2="618" y2="124" stroke="#f0102c" stroke-width="2" stroke-dasharray="8 4"/>
<path d="M618 111.3 L623.33 127 L618 123.2 L612.67 127 Z" fill="#f0102c"/>
<text x="71.6" y="113.8" text-anchor="end" class="ax">14.96M</text>
<text x="71.6" y="172.8" text-anchor="end" class="ax">12.00M</text>
<text x="71.6" y="232.8" text-anchor="end" class="ax">9.00M</text>
<text x="71.6" y="293.8" text-anchor="end" class="ax">6.00M</text>
<text x="71.6" y="353.8" text-anchor="end" class="ax">3.00M</text>
<text x="71.6" y="413.8" text-anchor="end" class="ax">5.07K</text>
<text x="1035.2" y="113.8" class="ax">322.01M</text>
<text x="1035.2" y="133.8" class="ax">300.00M</text>
<text x="1035.2" y="180.8" class="ax">250.00M</text>
<text x="1035.2" y="226.8" class="ax">200.00M</text>
<text x="1035.2" y="273.8" class="ax">150.00M</text>
<text x="1035.2" y="320.8" class="ax">100.00M</text>
<text x="1035.2" y="366.8" class="ax">50.00M</text>
<text x="1035.2" y="413.8" class="ax">0</text>
<text x="80.8" y="428.2" text-anchor="middle" class="ax">1.275</text>
<text x="118.76" y="428.2" text-anchor="middle" class="ax">1.289</text>
<text x="156.71" y="428.2" text-anchor="middle" class="ax">1.303</text>
<text x="194.67" y="428.2" text-anchor="middle" class="ax">1.317</text>
<text x="232.63" y="428.2" text-anchor="middle" class="ax">1.331</text>
<text x="270.58" y="428.2" text-anchor="middle" class="ax">1.345</text>
<text x="308.54" y="428.2" text-anchor="middle" class="ax">1.359</text>
<text x="346.5" y="428.2" text-anchor="middle" class="ax">1.373</text>
<text x="384.45" y="428.2" text-anchor="middle" class="ax">1.387</text>
<text x="422.41" y="428.2" text-anchor="middle" class="ax">1.401</text>
<text x="460.37" y="428.2" text-anchor="middle" class="ax">1.415</text>
<text x="498.32" y="428.2" text-anchor="middle" class="ax">1.429</text>
<text x="536.28" y="428.2" text-anchor="middle" class="ax">1.443</text>
<text x="574.24" y="428.2" text-anchor="middle" class="ax">1.459</text>
<text x="612.2" y="428.2" text-anchor="middle" class="ax">1.481</text>
<text x="650.15" y="428.2" text-anchor="middle" class="ax">1.495</text>
<text x="688.11" y="428.2" text-anchor="middle" class="ax">1.509</text>
<text x="726.07" y="428.2" text-anchor="middle" class="ax">1.523</text>
<text x="764.02" y="428.2" text-anchor="middle" class="ax">1.537</text>
<text x="801.98" y="428.2" text-anchor="middle" class="ax">1.551</text>
<text x="839.94" y="428.2" text-anchor="middle" class="ax">1.565</text>
<text x="877.89" y="428.2" text-anchor="middle" class="ax">1.579</text>
<text x="915.85" y="428.2" text-anchor="middle" class="ax">1.593</text>
<text x="953.81" y="428.2" text-anchor="middle" class="ax">1.617</text>
<text x="991.76" y="428.2" text-anchor="middle" class="ax">1.633</text>
<g fill="#c2c4c4">
<path d="M922 379.5 Q924 377.8 926.6 377 L927.3 376 L928.2 373.8 L929.6 375.3 Q933.4 374 937.2 375.3 L938.6 373.8 L939.5 376 L940.2 377 Q942.8 377.8 944.9 379.5 Q944.6 381.8 942.2 381.7 Q942.5 387.5 938.6 390 Q941.5 391.5 941 393.5 Q940.5 395 938.4 395.2 L938 399.2 Q936.5 400 935 399.3 L934.3 396.5 L932.7 396.5 L932.5 399.4 Q930.8 400 929.4 399.4 L929 395.3 Q926.8 395 926.4 393.3 Q926.2 391.4 928.9 390 Q925.2 387.5 925.4 381.7 Q922.8 381.8 922 379.5 Z"/>
</g>
<text x="949.5" y="392.3" class="wm">coinglass</text>
<rect x="79" y="431" width="949.3" height="60" fill="#eef2fd"/>
<rect x="73" y="453.8" width="14" height="17" rx="5" fill="#2e3244"/>
<rect x="77.7" y="458.8" width="1.2" height="7" fill="#aab0c0"/>
<rect x="81.1" y="458.8" width="1.2" height="7" fill="#aab0c0"/>
<rect x="1020.4" y="453.8" width="14" height="17" rx="5" fill="#2e3244"/>
<rect x="1025.1" y="458.8" width="1.2" height="7" fill="#aab0c0"/>
<rect x="1028.5" y="458.8" width="1.2" height="7" fill="#aab0c0"/>
</svg>
</body></html>
